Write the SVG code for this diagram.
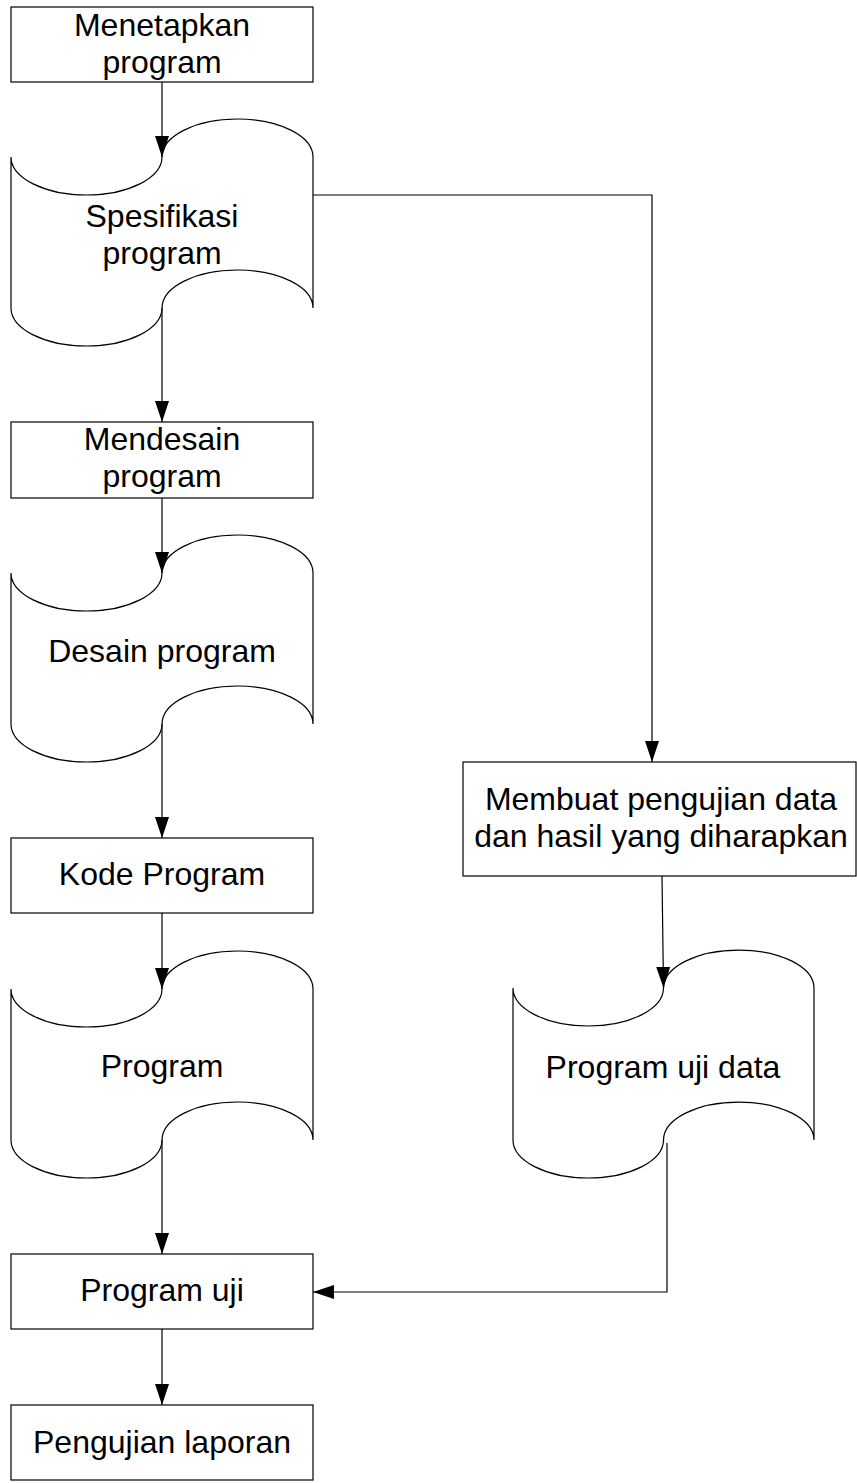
<svg xmlns="http://www.w3.org/2000/svg" width="857" height="1483" viewBox="0 0 857 1483">
<style>
.box{fill:#fff;stroke:#000;stroke-width:1.2}
.tape{fill:#fff;stroke:#000;stroke-width:1.2}
.lbl{font-family:"Liberation Sans",Arial,sans-serif;font-size:32px;fill:#000;text-anchor:middle}
.conn{fill:none;stroke:#000;stroke-width:1.2}
</style>
<defs>
<marker id="arr" markerUnits="userSpaceOnUse" markerWidth="22" markerHeight="15" refX="21" refY="7" orient="auto">
<path d="M0,0 L21,7 L0,14 Z" fill="#000"/>
</marker>
</defs>
<rect width="857" height="1483" fill="#fff"/>
<g id="n1">
<rect class="box" x="11" y="7" width="302" height="75"/>
<text class="lbl" x="162" y="36">Menetapkan</text>
<text class="lbl" x="162" y="73">program</text>
</g>
<g id="n2">
<path class="tape" d="M11,157 A75.5,38 0 0 0 162,157 A75.5,38 0 0 1 313,157 L313,308 A75.5,38 0 0 0 162,308 A75.5,38 0 0 1 11,308 Z"/>
<text class="lbl" x="162" y="227">Spesifikasi</text>
<text class="lbl" x="162" y="264">program</text>
</g>
<g id="n3">
<rect class="box" x="11" y="422" width="302" height="76"/>
<text class="lbl" x="162" y="450">Mendesain</text>
<text class="lbl" x="162" y="487">program</text>
</g>
<g id="n4">
<path class="tape" d="M11,573 A75.5,38 0 0 0 162,573 A75.5,38 0 0 1 313,573 L313,724 A75.5,38 0 0 0 162,724 A75.5,38 0 0 1 11,724 Z"/>
<text class="lbl" x="162" y="662">Desain program</text>
</g>
<g id="n5">
<rect class="box" x="11" y="838" width="302" height="75"/>
<text class="lbl" x="162" y="885">Kode Program</text>
</g>
<g id="n6">
<path class="tape" d="M11,989 A75.5,38 0 0 0 162,989 A75.5,38 0 0 1 313,989 L313,1140 A75.5,38 0 0 0 162,1140 A75.5,38 0 0 1 11,1140 Z"/>
<text class="lbl" x="162" y="1077">Program</text>
</g>
<g id="n7">
<rect class="box" x="11" y="1254" width="302" height="75"/>
<text class="lbl" x="162" y="1301">Program uji</text>
</g>
<g id="n8">
<rect class="box" x="11" y="1405" width="302" height="75"/>
<text class="lbl" x="162" y="1453">Pengujian laporan</text>
</g>
<g id="n9">
<rect class="box" x="463" y="762" width="393" height="114"/>
<text class="lbl" x="661" y="810">Membuat pengujian data</text>
<text class="lbl" x="661" y="847">dan hasil yang diharapkan</text>
</g>
<g id="n10">
<path class="tape" d="M513,988 A75.25,38 0 0 0 663.5,988 A75.25,38 0 0 1 814,988 L814,1140 A75.25,38 0 0 0 663.5,1140 A75.25,38 0 0 1 513,1140 Z"/>
<text class="lbl" x="663" y="1078">Program uji data</text>
</g>
<g id="connectors">
<path class="conn" d="M162,82 L162,157" marker-end="url(#arr)"/>
<path class="conn" d="M162,308 L162,422" marker-end="url(#arr)"/>
<path class="conn" d="M162,498 L162,573" marker-end="url(#arr)"/>
<path class="conn" d="M162,724 L162,838" marker-end="url(#arr)"/>
<path class="conn" d="M162,913 L162,989" marker-end="url(#arr)"/>
<path class="conn" d="M162,1140 L162,1254" marker-end="url(#arr)"/>
<path class="conn" d="M162,1329 L162,1405" marker-end="url(#arr)"/>
<path class="conn" d="M313,195 L652,195 L652,762" marker-end="url(#arr)"/>
<path class="conn" d="M662,876 L663.5,988" marker-end="url(#arr)"/>
<path class="conn" d="M667,1143 L667,1292 L313,1292" marker-end="url(#arr)"/>
</g>
</svg>
